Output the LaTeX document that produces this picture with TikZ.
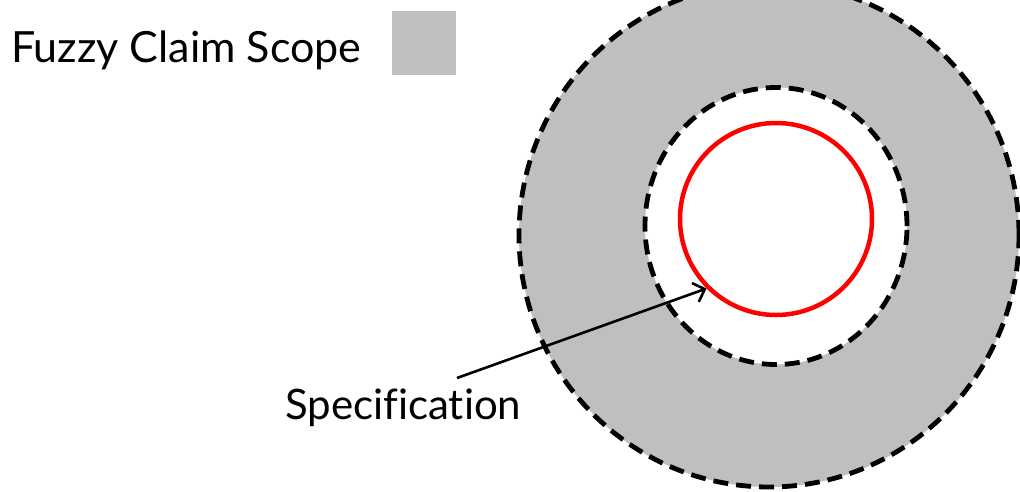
\documentclass[tikz,border=0pt]{standalone}
\usepackage{fontspec}
\setmainfont{Lato}[Ligatures=NoCommon]
\usetikzlibrary{shapes.geometric,arrows.meta}
\definecolor{fuzzgray}{HTML}{BFBFBF}
\definecolor{specred}{HTML}{FF0000}
\tikzset{
  dashring/.style={ellipse, draw=black, line width=4.8pt, dash pattern=on 15pt off 8pt, inner sep=0pt},
  label/.style={inner sep=0pt},
}
\begin{document}
\begin{tikzpicture}[x=1pt,y=-1pt]
\useasboundingbox (0,0) rectangle (1020,491);
\clip (0,0) rectangle (1020,491);
\node[dashring, fill=fuzzgray, minimum width=500pt, minimum height=504pt] (outer) at (769,235) {};
\node[dashring, fill=white, minimum width=262pt, minimum height=277pt] (inner) at (776,226) {};
\node[circle, draw=specred, line width=4.5pt, minimum size=192pt, inner sep=0pt] (spec) at (776,219) {};
\node[label, font=\fontsize{43}{46}\selectfont, anchor=base west] (title) at (11,62) {Fuzzy Claim Scope};
\node[fill=fuzzgray, minimum width=64pt, minimum height=64pt, inner sep=0pt] (swatch) at (424,43) {};
\node[label, font=\fontsize{42}{45}\selectfont, anchor=base west] (speclabel) at (285,419) {Specification};
\coordinate (arrstart) at (457,378);
\draw[line width=2.6pt, -{Straight Barb[length=10pt,width=20pt,line width=2.6pt]}] (arrstart) -- (spec.225);
\end{tikzpicture}
\end{document}
